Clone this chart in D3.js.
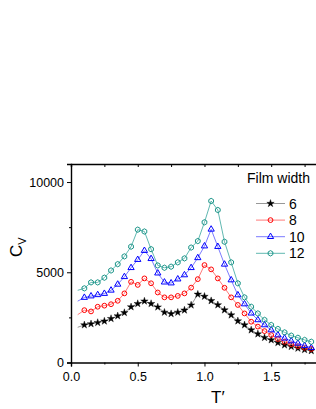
<!DOCTYPE html>
<html>
<head>
<meta charset="utf-8">
<script src="https://cdn.jsdelivr.net/npm/d3@7"></script>
<style>
  body { margin: 0; background: #fff; }
  svg { display: block; }
  text { font-family: Arial, "Liberation Sans", sans-serif; fill: #000; }
</style>
</head>
<body>
<div id="chart"></div>
<script>
// reduced temperature T'
var temps = [0.05, 0.10, 0.15, 0.20, 0.25, 0.30, 0.35, 0.40, 0.45, 0.50, 0.55, 0.60,
  0.65, 0.70, 0.75, 0.80, 0.85, 0.90, 0.95, 1.00, 1.05, 1.10, 1.15, 1.20,
  1.25, 1.30, 1.35, 1.40, 1.45, 1.50, 1.55, 1.60, 1.65, 1.70, 1.75, 1.80]

// specific heat Cv for each film width
var cv6 = [1950, 2080, 2140, 2210, 2290, 2430, 2580, 2760, 3080, 3260, 3400, 3260,
  3070, 2780, 2700, 2780, 2900, 3180, 3780, 3660, 3420, 3190, 2910, 2630,
  2300, 2080, 1800, 1580, 1380, 1250, 1100, 970, 880, 790, 710, 650]
var cv8 = [2650, 2900, 2830, 3090, 3150, 3230, 3420, 3830, 4470, 4300, 4660, 4390,
  3880, 3610, 3610, 3690, 3830, 4150, 4620, 5400, 5160, 4660, 4140, 3610,
  3190, 2720, 2260, 1990, 1740, 1520, 1300, 1150, 1010, 910, 820, 750]
var cv10 = [3400, 3600, 3680, 3750, 3820, 4000, 4330, 4750, 5250, 5700, 6200, 5750,
  4950, 4450, 4400, 4620, 4850, 5250, 5800, 6450, 7380, 6420, 5440, 4570,
  3740, 3240, 2730, 2360, 2080, 1800, 1520, 1340, 1190, 1060, 930, 820]
var cv12 = [4000, 4110, 4440, 4440, 4700, 5100, 5450, 5880, 6420, 7360, 7260, 6280,
  5380, 5250, 5310, 5550, 5770, 6370, 6730, 7770, 8950, 8450, 6690, 5550,
  4390, 3610, 3090, 2720, 2360, 2080, 1860, 1670, 1490, 1370, 1250, 1150]

var widths = ['6', '8', '10', '12']
var xTicks = [0, 0.5, 1.0, 1.5]
var xMinor = [0.25, 0.75, 1.25, 1.75]
var yTicks = [0, 5000, 10000]
var yMinor = [2500, 7500]

var W = 316, H = 409
var plotLeft = 71, plotRight = 316.6, plotTop = 164, plotBottom = 362.5

var svg = d3.select('#chart').append('svg')
  .attr('width', W)
  .attr('height', H)

var x = d3.scaleLinear().domain([0, 1.84]).range([plotLeft, plotRight])
var y = d3.scaleLinear().domain([0, 11000]).range([plotBottom, plotTop])

var hexagon = {
  draw: function (ctx, size) {
    var r = Math.sqrt(size / 2.598)
    for (var i = 0; i < 6; i++) {
      var a = Math.PI / 6 + i * Math.PI / 3
      if (i === 0) ctx.moveTo(r * Math.cos(a), r * Math.sin(a))
      else ctx.lineTo(r * Math.cos(a), r * Math.sin(a))
    }
    ctx.closePath()
  }
}

var series = [
  {name: widths[0], values: cv6, line: '#8c8c8c', color: '#000', sym: d3.symbolStar, size: 17, fill: true},
  {name: widths[1], values: cv8, line: '#ff6b6b', color: '#ff0000', sym: d3.symbolCircle, size: 18, fill: false},
  {name: widths[2], values: cv10, line: '#6b6bff', color: '#0000ff', sym: d3.symbolTriangle, size: 17, fill: false},
  {name: widths[3], values: cv12, line: '#4fb0a8', color: '#1a9488', sym: hexagon, size: 19, fill: false}
]

// frame: top line with inward ticks
svg.append('g')
  .attr('transform', 'translate(0,' + plotTop + ')')
  .call(d3.axisTop(x).tickValues(xTicks.concat(xMinor)).tickSize(-3).tickFormat(''))
  .call(function (g) {
    g.select('.domain').attr('stroke-width', 1.4)
    g.selectAll('.tick line').attr('stroke-width', 1)
  })

var line = d3.line()
  .x(function (d) { return x(d[0]) })
  .y(function (d) { return y(d[1]) })

series.forEach(function (s) {
  var pts = temps.map(function (t, i) { return [t, s.values[i]] })
  svg.append('path')
    .datum(pts)
    .attr('d', line)
    .attr('fill', 'none')
    .attr('stroke', s.line)
    .attr('stroke-width', 0.9)

  svg.append('g').selectAll('path')
    .data(pts.slice(1))
    .enter().append('path')
    .attr('transform', function (d) { return 'translate(' + x(d[0]) + ',' + y(d[1]) + ')' })
    .attr('d', d3.symbol().type(s.sym).size(s.size))
    .attr('fill', s.fill ? s.color : 'none')
    .attr('stroke', s.color)
    .attr('stroke-width', s.fill ? 0.4 : 1)
})

// bottom axis
var xAxis = svg.append('g')
  .attr('transform', 'translate(0,' + plotBottom + ')')
  .call(d3.axisBottom(x).tickValues(xTicks).tickSize(4).tickFormat(d3.format('.1f')))
xAxis.select('.domain').attr('stroke-width', 1.4)
xAxis.selectAll('text').attr('font-size', 12.5).attr('dy', '0.9em')
svg.append('g')
  .attr('transform', 'translate(0,' + plotBottom + ')')
  .call(d3.axisBottom(x).tickValues(xMinor).tickSize(2).tickFormat(''))
  .select('.domain').remove()

// left axis
var yAxis = svg.append('g')
  .attr('transform', 'translate(' + plotLeft + ',0)')
  .call(d3.axisLeft(y).tickValues(yTicks).tickSize(4).tickFormat(d3.format('d')))
yAxis.select('.domain').attr('stroke-width', 1.4)
yAxis.selectAll('text').attr('font-size', 12.5)
svg.append('g')
  .attr('transform', 'translate(' + plotLeft + ',0)')
  .call(d3.axisLeft(y).tickValues(yMinor).tickSize(2).tickFormat(''))
  .select('.domain').remove()

// axis titles
var yl = svg.append('text')
  .attr('transform', 'translate(22,257) rotate(-90)')
  .attr('font-size', 17)
yl.append('tspan').text('C')
yl.append('tspan').attr('font-size', 11).attr('dy', 4).text('V')

svg.append('text')
  .attr('x', 211)
  .attr('y', 403)
  .attr('font-size', 17)
  .text('T\u2032')

// legend
svg.append('text')
  .attr('x', 247)
  .attr('y', 183)
  .attr('font-size', 14)
  .text('Film width')

var leg = svg.append('g').selectAll('g')
  .data(series)
  .enter().append('g')
  .attr('transform', function (d, i) { return 'translate(256,' + (203.5 + i * 16.6) + ')' })
leg.append('line')
  .attr('x1', 0).attr('x2', 29)
  .attr('stroke', function (d) { return d.line })
  .attr('stroke-width', 0.9)
leg.append('path')
  .attr('transform', 'translate(14.5,0)')
  .attr('d', function (d) { return d3.symbol().type(d.sym).size(d.size)() })
  .attr('fill', function (d) { return d.fill ? d.color : 'none' })
  .attr('stroke', function (d) { return d.color })
  .attr('stroke-width', function (d) { return d.fill ? 0.4 : 1 })
leg.append('text')
  .attr('x', 33)
  .attr('dy', '0.36em')
  .attr('font-size', 14)
  .text(function (d) { return d.name })
</script>
</body>
</html>
